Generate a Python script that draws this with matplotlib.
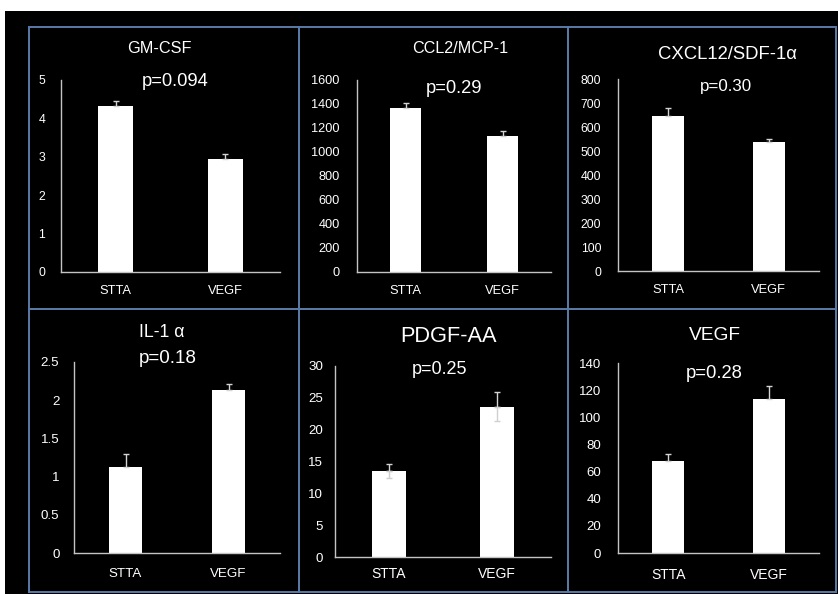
import matplotlib
matplotlib.use("Agg")
import matplotlib.pyplot as plt
from matplotlib.patches import Rectangle

plt.rcParams['font.family'] = ['Liberation Sans', 'DejaVu Sans']

W, H = 838, 594

categories = ["STTA", "VEGF"]
titles = ["GM-CSF", "CCL2/MCP-1", "CXCL12/SDF-1α", "IL-1 α", "PDGF-AA", "VEGF"]
pvalues = ["p=0.094", "p=0.29", "p=0.30", "p=0.18", "p=0.25", "p=0.28"]

gmcsf_vals = [4.32, 2.93]
gmcsf_err = [0.14, 0.14]
ccl2_vals = [1369, 1133]
ccl2_err = [42, 42]
cxcl12_vals = [647, 537]
cxcl12_err = [31, 14]
il1a_vals = [1.13, 2.14]
il1a_err = [0.16, 0.07]
pdgf_vals = [13.5, 23.6]
pdgf_err = [1.05, 2.3]
vegf_vals = [67.6, 113.5]
vegf_err = [5.3, 9.6]

ymax = [5, 1600, 800, 2.5, 30, 140]
ystep = [1, 200, 100, 0.5, 5, 20]
ticklabels = [
    ["0", "1", "2", "3", "4", "5"],
    ["0", "200", "400", "600", "800", "1000", "1200", "1400", "1600"],
    ["0", "100", "200", "300", "400", "500", "600", "700", "800"],
    ["0", "0.5", "1", "1.5", "2", "2.5"],
    ["0", "5", "10", "15", "20", "25", "30"],
    ["0", "20", "40", "60", "80", "100", "120", "140"],
]
values = [gmcsf_vals, ccl2_vals, cxcl12_vals, il1a_vals, pdgf_vals, vegf_vals]
errors = [gmcsf_err, ccl2_err, cxcl12_err, il1a_err, pdgf_err, vegf_err]
show_lower = [False, False, False, False, True, False]

# layout (pixels): axes left, right, top(ymax), bottom(zero)
axes_px = [
    (61, 280, 80, 272),
    (357, 551, 80, 272),
    (618, 819, 79, 271),
    (74, 280, 362, 553),
    (335, 551, 366, 557),
    (618, 819, 363, 553),
]
title_pos = [(159, 53, 11.7), (460, 53, 11.6), (727, 59, 13.3),
             (162, 337, 12.7), (448, 342, 15.7), (715, 340, 13.8)]
p_pos = [(175, 86, 13.2), (454, 93, 13.2), (726, 91, 12.2),
         (168, 363, 13.6), (440, 374, 13.0), (714, 378, 13.3)]
tick_fs = [8.8, 9.2, 8.8, 9.6, 9.6, 9.5]
cat_fs = [9.3, 9.3, 9.3, 9.6, 10.0, 10.0]
ypad = [11.5, 12.5, 12.0, 10.5, 8.5, 12.0]
xpad = [9.5, 9.5, 9.5, 11.0, 7.5, 10.5]

fig = plt.figure(figsize=(W / 100, H / 100), dpi=100)
fig.patch.set_facecolor("black")

def fx(x):
    return x / W

def fy(y):
    return 1 - y / H

# white margins
fig.patches.append(Rectangle((0, fy(11)), 1, 11 / H, transform=fig.transFigure,
                             facecolor="white", edgecolor="none", zorder=0))
fig.patches.append(Rectangle((0, 0), 5 / W, 1, transform=fig.transFigure,
                             facecolor="white", edgecolor="none", zorder=0))

# panel boxes
box_color = "#5a7aa6"
cols = [(29, 299), (299, 568), (568, 836)]
rows = [(27, 309), (309, 592)]
for (r0, r1) in rows:
    for (c0, c1) in cols:
        fig.patches.append(Rectangle((fx(c0), fy(r1)), (c1 - c0) / W, (r1 - r0) / H,
                                     transform=fig.transFigure, facecolor="none",
                                     edgecolor=box_color, linewidth=1.4, zorder=1))

for i in range(6):
    l, r, t, b = axes_px[i]
    ax = fig.add_axes([fx(l), fy(b), (r - l) / W, (b - t) / H])
    ax.set_facecolor("none")
    x = list(range(len(categories)))
    ax.bar(x, values[i], width=0.32, color="white", edgecolor="none", zorder=2)
    lower = errors[i] if show_lower[i] else [0] * len(errors[i])
    ax.errorbar(x, values[i], yerr=[[0] * len(errors[i]), errors[i]], fmt="none",
                ecolor="#d4d4d4", elinewidth=1.0, capsize=2.5, capthick=1.0, zorder=3)
    if show_lower[i]:
        ax.errorbar(x, values[i], yerr=[lower, [0] * len(lower)], fmt="none",
                    ecolor="#d0d0d0", elinewidth=1.0, capsize=2.5, capthick=1.0, zorder=3)
    ax.set_xlim(-0.5, 1.5)
    ax.set_ylim(0, ymax[i])
    n = len(ticklabels[i])
    ax.set_yticks([k * ystep[i] for k in range(n)])
    ax.set_yticklabels(ticklabels[i])
    ax.set_xticks(x)
    ax.set_xticklabels(categories)
    ax.tick_params(axis="y", length=0, pad=ypad[i], labelsize=tick_fs[i], colors="white")
    ax.tick_params(axis="x", length=0, pad=xpad[i], labelsize=cat_fs[i], colors="white")
    for s in ["top", "right"]:
        ax.spines[s].set_visible(False)
    for s in ["left", "bottom"]:
        ax.spines[s].set_color("#c4c4c4")
        ax.spines[s].set_linewidth(1.0)

    tx, ty, tfs = title_pos[i]
    fig.text(fx(tx), fy(ty), titles[i], ha="center", va="baseline",
             fontsize=tfs, color="white")
    px_, py_, pfs = p_pos[i]
    fig.text(fx(px_), fy(py_), pvalues[i], ha="center", va="baseline",
             fontsize=pfs, color="white")

fig.savefig("out.png", dpi=100, facecolor=fig.get_facecolor())
